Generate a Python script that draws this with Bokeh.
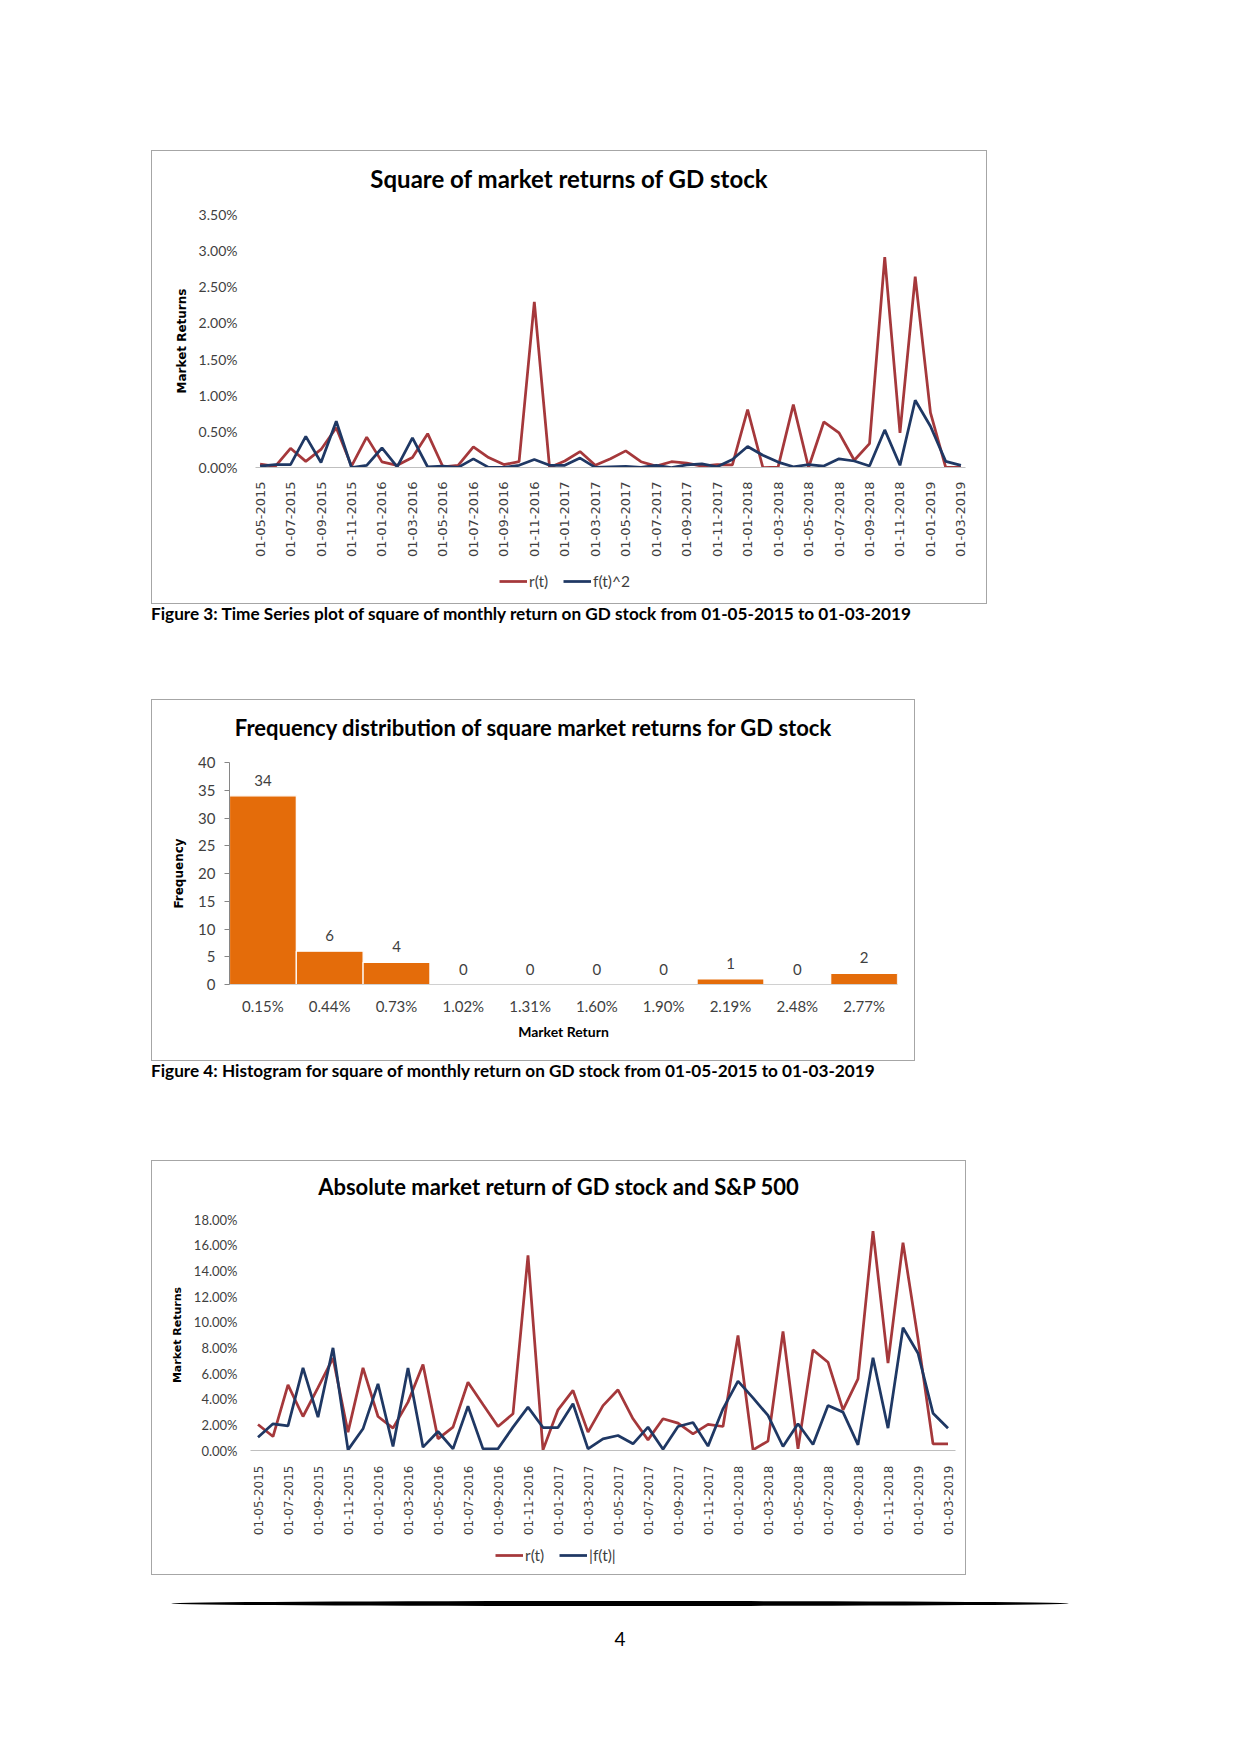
import math
from bokeh.plotting import figure
from bokeh.models import (ColumnDataSource, FixedTicker, NumeralTickFormatter, Legend, LegendItem,
                          LabelSet, Div, Range1d, FactorRange)
from bokeh.layouts import column
from bokeh.core.properties import value
from bokeh.embed import file_html
from bokeh.resources import INLINE

# ---------------- data ----------------
MONTH_INDEX = list(range(47))  # 01-05-2015 ... 01-03-2019 (monthly)

TICK_POS = [0, 2, 4, 6, 8, 10, 12, 14, 16, 18, 20, 22, 24, 26, 28, 30, 32, 34, 36, 38, 40, 42, 44, 46]
TICK_LABELS = ["01-05-2015", "01-07-2015", "01-09-2015", "01-11-2015", "01-01-2016", "01-03-2016",
               "01-05-2016", "01-07-2016", "01-09-2016", "01-11-2016", "01-01-2017", "01-03-2017",
               "01-05-2017", "01-07-2017", "01-09-2017", "01-11-2017", "01-01-2018", "01-03-2018",
               "01-05-2018", "01-07-2018", "01-09-2018", "01-11-2018", "01-01-2019", "01-03-2019"]

# Figure 3: squared returns (in %)
R_SQ = [0.046, 0.015, 0.266, 0.085, 0.25, 0.55, 0.02, 0.42, 0.078, 0.03, 0.138, 0.468, 0.01, 0.03,
        0.284, 0.138, 0.04, 0.08, 2.29, 0.0, 0.09, 0.22, 0.03, 0.12, 0.23, 0.08, 0.02, 0.08, 0.06,
        0.02, 0.04, 0.035, 0.80, 0.0, 0.005, 0.87, 0.0, 0.63, 0.48, 0.10, 0.33, 2.91, 0.48, 2.64,
        0.76, 0.003, 0.003]
F_SQ = [0.02, 0.04, 0.04, 0.43, 0.07, 0.64, 0.0, 0.03, 0.27, 0.01, 0.41, 0.007, 0.02, 0.002,
        0.12, 0.002, 0.002, 0.03, 0.11, 0.03, 0.03, 0.13, 0.002, 0.008, 0.014, 0.003, 0.03, 0.0,
        0.035, 0.05, 0.01, 0.11, 0.29, 0.17, 0.075, 0.01, 0.04, 0.02, 0.12, 0.09, 0.02, 0.52,
        0.03, 0.93, 0.57, 0.085, 0.03]
Y1_TICKS = [0.0, 0.5, 1.0, 1.5, 2.0, 2.5, 3.0, 3.5]

# Figure 4: histogram
BINS = ["0.15%", "0.44%", "0.73%", "1.02%", "1.31%", "1.60%", "1.90%", "2.19%", "2.48%", "2.77%"]
FREQ = [34, 6, 4, 0, 0, 0, 0, 1, 0, 2]
Y2_TICKS = [0, 5, 10, 15, 20, 25, 30, 35, 40]

# Figure 5: absolute returns (in %)
R_ABS = [2.03, 1.09, 5.12, 2.65, 4.9, 7.2, 1.43, 6.44, 2.65, 1.74, 3.77, 6.70, 0.91, 1.82, 5.32,
         3.58, 1.87, 2.86, 15.2, 0.05, 3.17, 4.68, 1.43, 3.5, 4.73, 2.47, 0.83, 2.47, 2.13, 1.30,
         2.03, 1.87, 8.96, 0.05, 0.73, 9.27, 0.13, 7.84, 6.88, 3.17, 5.58, 17.1, 6.81, 16.2, 8.7,
         0.52, 0.52]
F_ABS = [1.04, 2.08, 1.92, 6.44, 2.60, 8.0, 0.05, 1.69, 5.19, 0.31, 6.42, 0.26, 1.48, 0.13, 3.45,
         0.13, 0.13, 1.82, 3.38, 1.79, 1.79, 3.64, 0.13, 0.91, 1.17, 0.52, 1.82, 0.10, 1.87, 2.18,
         0.34, 3.25, 5.40, 4.10, 2.73, 0.31, 2.08, 0.47, 3.51, 2.99, 0.44, 7.22, 1.74, 9.56, 7.58,
         2.91, 1.74]
Y3_TICKS = [0, 2, 4, 6, 8, 10, 12, 14, 16, 18]

# ---------------- styles ----------------
RED = "#A5383B"
BLUE = "#1F3864"
ORANGE = "#E46C0A"
FONT = "Lato"
TXT = "#3F3F3F"
LW = 2.75
BOX = {"border": "1px solid #A6A6A6", "background": "white"}


def title_div(text, width, height, line_h, size):
    return Div(text=text, width=width, height=height, margin=0,
               styles={"font-family": FONT, "font-weight": "bold", "font-size": size,
                       "line-height": line_h, "text-align": "center", "color": "#000",
                       "white-space": "nowrap"})


def make_source(red_vals, blue_vals):
    return ColumnDataSource(dict(x=MONTH_INDEX,
                                 r=[v / 100 for v in red_vals],
                                 f=[v / 100 for v in blue_vals]))


def legend_fig(width, height, src, blue_label, loc):
    # A legend strip under the chart. Its ranges lie far outside the data, so only the
    # legend itself is visible.
    lf = figure(width=width, height=height, x_range=Range1d(1000, 1001), y_range=Range1d(1000, 1001),
                output_backend="svg", toolbar_location=None, margin=0, min_border=0,
                x_axis_location=None, y_axis_location=None, outline_line_color=None,
                background_fill_color="white", border_fill_color="white")
    lf.grid.visible = False
    r1 = lf.line("x", "r", source=src, line_color=RED, line_width=LW)
    r2 = lf.line("x", "f", source=src, line_color=BLUE, line_width=LW)
    legend = Legend(items=[LegendItem(label="r(t)", renderers=[r1]),
                           LegendItem(label=blue_label, renderers=[r2])],
                    orientation="horizontal", location=loc)
    legend.border_line_color = None
    legend.background_fill_alpha = 0
    legend.glyph_width = 28
    legend.glyph_height = 14
    legend.label_standoff = 2
    legend.spacing = 14
    legend.padding = 2
    legend.margin = 0
    legend.label_text_font = FONT
    legend.label_text_font_size = "15.5px"
    legend.label_text_color = TXT
    lf.add_layout(legend, "center")
    return lf


def line_chart(w, h, ml, mr, mt, mb, y_ticks, src,
               ytick_size, xtick_size, ylabel_size, ystand, ylab_stand, xstand, xr):
    p = figure(width=w, height=h, x_range=Range1d(-xr, 46 + xr),
               y_range=Range1d(0, y_ticks[-1] / 100),
               output_backend="svg", toolbar_location=None, margin=0,
               min_border_left=ml, min_border_right=mr, min_border_top=mt, min_border_bottom=mb,
               outline_line_color=None, background_fill_color="white", border_fill_color="white")
    p.line("x", "r", source=src, line_color=RED, line_width=LW)
    p.line("x", "f", source=src, line_color=BLUE, line_width=LW)
    p.grid.visible = False

    ya = p.yaxis[0]
    ya.ticker = FixedTicker(ticks=[t / 100 for t in y_ticks])
    ya.formatter = NumeralTickFormatter(format="0.00%")
    ya.axis_line_color = None
    ya.major_tick_line_color = None
    ya.minor_tick_line_color = None
    ya.major_label_standoff = ystand
    ya.major_label_text_font = FONT
    ya.major_label_text_font_size = ytick_size
    ya.major_label_text_color = TXT
    ya.axis_label = "Market Returns"
    ya.axis_label_text_font = "DejaVu Sans"
    ya.axis_label_text_font_style = "bold"
    ya.axis_label_text_font_size = ylabel_size
    ya.axis_label_text_color = "#000"
    ya.axis_label_standoff = ylab_stand

    xa = p.xaxis[0]
    xa.ticker = FixedTicker(ticks=TICK_POS)
    xa.major_label_overrides = dict(zip(TICK_POS, TICK_LABELS))
    xa.major_label_orientation = math.pi / 2
    xa.axis_line_color = "#BFBFBF"
    xa.axis_line_width = 1
    xa.major_tick_line_color = None
    xa.minor_tick_line_color = None
    xa.major_label_standoff = xstand
    xa.major_label_text_font = "DejaVu Sans"
    xa.major_label_text_font_size = xtick_size
    xa.major_label_text_color = TXT
    return p


# ---------------- Figure 3 ----------------
W1 = 834
src1 = make_source(R_SQ, F_SQ)
t1 = title_div("Square of market returns of GD stock", W1, 44, "56px", "24px")
p1 = line_chart(W1, 365, 103, 21, 19, 92, Y1_TICKS, src1,
                "14px", "13px", "12px", 12, 7, 8, 0.3)
l1 = legend_fig(W1, 43, src1, "f(t)^2", (244, 13))
box1 = column(t1, p1, l1, styles=BOX, margin=(150, 0, 0, 151))

cap_style = {"font-family": FONT, "font-weight": "bold", "font-size": "17.2px",
             "line-height": "20px", "color": "#000", "white-space": "nowrap"}
cap1 = Div(text="Figure 3: Time Series plot of square of monthly return on GD stock from 01-05-2015 to 01-03-2019",
           width=1000, height=20, styles=cap_style, margin=(0, 0, 0, 151))

# ---------------- Figure 4 ----------------
W2 = 762
t2 = title_div("Frequency distribution of square market returns for GD stock", W2, 44, "55px", "22px")
src2 = ColumnDataSource(dict(x=BINS, top=FREQ, lab=[str(v) for v in FREQ]))
p2 = figure(width=W2, height=316, x_range=FactorRange(factors=BINS, range_padding=0),
            y_range=Range1d(0, Y2_TICKS[-1]), output_backend="svg", toolbar_location=None, margin=0,
            min_border_left=77, min_border_right=17, min_border_top=18, min_border_bottom=76,
            outline_line_color=None, background_fill_color="white", border_fill_color="white")
p2.vbar(x="x", top="top", width=1.0, source=src2, fill_color=ORANGE, line_color="white",
        line_width=1.2)
p2.add_layout(LabelSet(x="x", y="top", text="lab", source=src2, y_offset=10, text_align="center",
                       text_baseline="bottom", text_font=value(FONT), text_font_size="15px",
                       text_color=TXT))
p2.grid.visible = False
ya2 = p2.yaxis[0]
ya2.ticker = FixedTicker(ticks=Y2_TICKS)
ya2.axis_line_color = "#868686"
ya2.major_tick_line_color = "#868686"
ya2.major_tick_out = 5
ya2.major_tick_in = 0
ya2.minor_tick_line_color = None
ya2.major_label_standoff = 9
ya2.major_label_text_font = FONT
ya2.major_label_text_font_size = "15px"
ya2.major_label_text_color = TXT
ya2.axis_label = "Frequency"
ya2.axis_label_text_font = "DejaVu Sans"
ya2.axis_label_text_font_style = "bold"
ya2.axis_label_text_font_size = "12px"
ya2.axis_label_text_color = "#000"
ya2.axis_label_standoff = 9
xa2 = p2.xaxis[0]
xa2.axis_line_color = "#D0D0D0"
xa2.major_tick_line_color = None
xa2.minor_tick_line_color = None
xa2.major_label_standoff = 6
xa2.major_label_text_font = FONT
xa2.major_label_text_font_size = "15px"
xa2.major_label_text_color = TXT
xa2.axis_label = "Market Return"
xa2.axis_label_text_font = FONT
xa2.axis_label_text_font_style = "bold"
xa2.axis_label_text_font_size = "14px"
xa2.axis_label_text_color = "#000"
xa2.axis_label_standoff = 5
box2 = column(t2, p2, styles=BOX, margin=(75, 0, 0, 151))

cap2 = Div(text="Figure 4: Histogram for square of monthly return on GD stock from 01-05-2015 to 01-03-2019",
           width=1000, height=20, styles=cap_style, margin=(0, 0, 0, 151))

# ---------------- Figure 5 ----------------
W3 = 813
src3 = make_source(R_ABS, F_ABS)
t3 = title_div("Absolute market return of GD stock and S&amp;P 500", W3, 40, "52px", "22px")
p3 = line_chart(W3, 337, 98, 10, 18, 88, Y3_TICKS, src3,
                "13px", "12px", "11px", 7, 7, 9, 0.5)
l3 = legend_fig(W3, 36, src3, "|f(t)|", (245, 10))
box3 = column(t3, p3, l3, styles=BOX, margin=(79, 0, 0, 151))

# ---------------- footer ----------------
rule = Div(text="", width=898, height=5,
           styles={"background": "#000", "border-radius": "50%"}, margin=(26, 0, 0, 171))
page_no = Div(text="4", width=898, height=24,
              styles={"font-family": FONT, "font-size": "19px", "line-height": "24px",
                      "text-align": "center", "color": "#000"}, margin=(21, 0, 0, 171))

page = column(box1, cap1, box2, cap2, box3, rule, page_no)

open("out.html", "w").write(file_html(page, INLINE))
